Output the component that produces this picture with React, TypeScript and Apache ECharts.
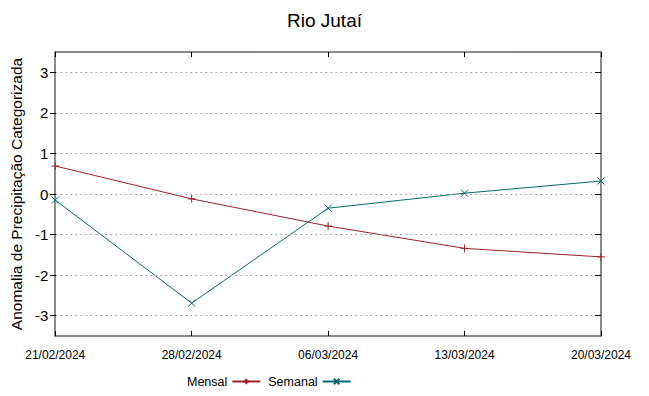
import React, { useEffect, useRef } from "react";
import * as echarts from "echarts";

const categories = ["21/02/2024", "28/02/2024", "06/03/2024", "13/03/2024", "20/03/2024"];
const mensal = [0.69, -0.12, -0.79, -1.34, -1.55];
const semanal = [-0.15, -2.69, -0.35, 0.02, 0.32];
const yTicks = [-3, -2, -1, 0, 1, 2, 3];

const FONT = "Liberation Sans, Arial, sans-serif";
const RED = "#a0202a";
const TEAL = "#006b6b";
const PLUS = "path://M0,5L10,5M5,0L5,10";
const CROSS = "path://M0,0L10,10M10,0L0,10";

export default function App() {
  const ref = useRef<HTMLDivElement>(null);
  useEffect(() => {
    if (!ref.current) return;
    document.body.style.margin = "0";
    const chart = echarts.init(ref.current, undefined, { renderer: "svg" });
    const frame = { show: true, onZero: false, lineStyle: { color: "#666", width: 1.5 } };
    chart.setOption({
      animation: false,
      backgroundColor: "#fff",
      textStyle: { fontFamily: FONT },
      title: {
        text: "Rio Jutaí",
        left: "center",
        top: 6,
        textStyle: { fontFamily: FONT, fontSize: 19, fontWeight: "normal", color: "#000" },
      },
      grid: { left: 50, right: 48, top: 52, bottom: 60 },
      legend: {
        bottom: 3,
        left: 182,
        align: "right",
        itemWidth: 28,
        itemHeight: 7,
        itemGap: 7,
        textStyle: { fontFamily: FONT, fontSize: 12.5, color: "#000" },
        data: ["Mensal", "Semanal"],
      },
      xAxis: [
        {
          type: "category",
          data: categories,
          boundaryGap: false,
          position: "bottom",
          axisLine: frame,
          axisTick: { show: true, inside: true, length: 5, lineStyle: { color: "#000" } },
          axisLabel: { fontFamily: FONT, fontSize: 12, color: "#000", margin: 13 },
          splitLine: { show: false },
        },
        {
          type: "category",
          data: categories,
          boundaryGap: false,
          position: "top",
          axisLine: frame,
          axisTick: { show: true, inside: true, length: 5, lineStyle: { color: "#000" } },
          axisLabel: { show: false },
          splitLine: { show: false },
        },
      ],
      yAxis: [
        {
          type: "value",
          min: -3.5,
          max: 3.5,
          axisLine: frame,
          axisTick: { show: false },
          axisLabel: {
            fontFamily: FONT,
            fontSize: 15,
            color: "#000",
            margin: 7,
            customValues: yTicks,
          },
          splitLine: { show: false },
          name: "Anomalia de Precipitação Categorizada",
          nameLocation: "middle",
          nameRotate: 90,
          nameGap: 25,
          nameTextStyle: { fontFamily: FONT, fontSize: 15.5, color: "#000" },
        },
        {
          type: "value",
          min: -3.5,
          max: 3.5,
          position: "right",
          axisLine: frame,
          axisTick: { show: false },
          axisLabel: { show: false },
          splitLine: { show: false },
        },
      ],
      series: [
        {
          name: "Mensal",
          type: "line",
          data: mensal,
          symbol: PLUS,
          symbolSize: 8,
          lineStyle: { color: RED, width: 1 },
          itemStyle: { color: "rgba(0,0,0,0)", borderColor: RED, borderWidth: 1 },
          z: 3,
        },
        {
          name: "Semanal",
          type: "line",
          data: semanal,
          symbol: CROSS,
          symbolSize: 7,
          lineStyle: { color: TEAL, width: 1 },
          itemStyle: { color: "rgba(0,0,0,0)", borderColor: TEAL, borderWidth: 1 },
          z: 3,
        },
        {
          name: "grid",
          type: "line",
          data: [],
          markLine: {
            silent: true,
            symbol: "none",
            label: { show: false },
            lineStyle: { color: "#aaa", type: [2, 3], width: 1 },
            data: yTicks.map((v) => ({ yAxis: v })),
          },
          z: 1,
        },
        {
          name: "ticksL",
          type: "line",
          data: [],
          markLine: {
            silent: true,
            symbol: "none",
            label: { show: false },
            lineStyle: { color: "#000", type: "solid", width: 1 },
            data: yTicks.flatMap((v) => [
              [{ x: 50, yAxis: v }, { x: 56, yAxis: v }],
              [{ x: 595, yAxis: v }, { x: 601, yAxis: v }],
            ]),
          },
          z: 2,
        },
      ],
    });
    return () => chart.dispose();
  }, []);
  return <div ref={ref} style={{ width: 649, height: 396 }} />;
}
